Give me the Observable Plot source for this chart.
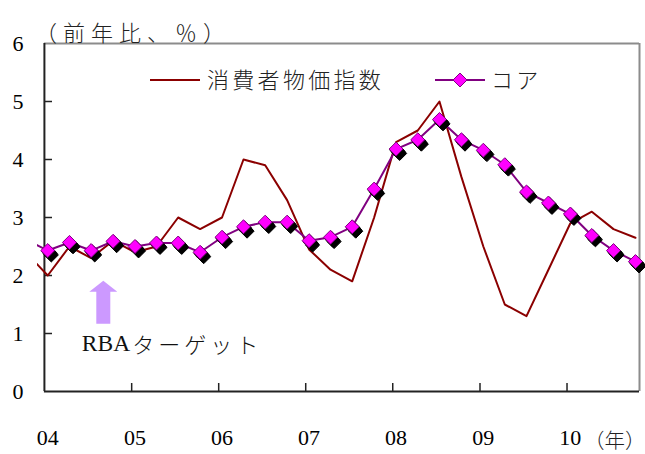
<!DOCTYPE html>
<html>
<head>
<meta charset="utf-8">
<script src="https://cdn.jsdelivr.net/npm/d3@7"></script>
<script src="https://cdn.jsdelivr.net/npm/@observablehq/plot@0.6"></script>
<style>
  body { margin: 0; background: #fff; }
  #chart { width: 645px; height: 454px; }
</style>
</head>
<body>
<div id="chart"></div>
<script>
// Consumer prices, year-on-year %, quarterly (2003Q4 is drawn only as the run-in to the left edge)
const quarters = [
  "2003Q4",
  "2004Q1", "2004Q2", "2004Q3", "2004Q4",
  "2005Q1", "2005Q2", "2005Q3", "2005Q4",
  "2006Q1", "2006Q2", "2006Q3", "2006Q4",
  "2007Q1", "2007Q2", "2007Q3", "2007Q4",
  "2008Q1", "2008Q2", "2008Q3", "2008Q4",
  "2009Q1", "2009Q2", "2009Q3", "2009Q4",
  "2010Q1", "2010Q2", "2010Q3", "2010Q4"
];
const cpiHeadline = [
  2.4,
  2.0, 2.5, 2.3, 2.6,
  2.4, 2.5, 3.0, 2.8,
  3.0, 4.0, 3.9, 3.3,
  2.45, 2.1, 1.9, 3.0,
  4.3, 4.5, 5.0, 3.7,
  2.5, 1.5, 1.3, 2.1,
  2.9, 3.1, 2.8, 2.65
];
const cpiCore = [
  2.62,
  2.43, 2.57, 2.43, 2.59,
  2.50, 2.56, 2.56, 2.40,
  2.66, 2.84, 2.92, 2.92,
  2.60, 2.66, 2.84, 3.49,
  4.18, 4.34, 4.69, 4.34,
  4.16, 3.91, 3.44, 3.25,
  3.06, 2.69, 2.43, 2.24
];
const yearLabels = ["04", "05", "06", "07", "08", "09", "10"];
const yTicks = [0, 1, 2, 3, 4, 5, 6];

const seriesNames = { headline: "消費者物価指数", core: "コア" };
const unitLabel = "（前年比、％）";
const yearUnit = "（年）";
const targetLabel = ["RBA", "ターゲット"];

// Each quarter sits in the middle of its first month
const parseQuarter = s => new Date(Date.UTC(+s.slice(0, 4), (+s.slice(5) - 1) * 3, 15));
const rows = quarters.map((q, i) => ({ date: parseQuarter(q), headline: cpiHeadline[i], core: cpiCore[i] }));

const firstYear = 2004;
const axisStart = new Date(Date.UTC(firstYear, 0, 1));
const xStart = new Date(Date.UTC(2003, 11, 3));
const xEnd = new Date(Date.UTC(2010, 10, 1));
const shown = rows.filter(d => d.date >= axisStart);
const yearRows = yearLabels.map((label, i) => ({ date: new Date(Date.UTC(firstYear + i, 0, 15)), label }));
const yearStarts = yearLabels.slice(1).map((_, i) => new Date(Date.UTC(firstYear + i + 1, 0, 1)));

const W = 645, H = 454, mL = 37, mR = 6, mT = 43, mB = 63;
const innerW = W - mL - mR, innerH = H - mT - mB;
const serif = "'Liberation Serif', 'Times New Roman', serif";
const cjk = "'Noto Sans CJK JP', 'Noto Sans', sans-serif";
const axisColor = "#222", borderColor = "#8c8c8c";
const headColor = "#8b0000", coreColor = "#800080", markFill = "#ff00ff";

// Block arrow pointing up, centred on its anchor
const blockArrow = {
  draw(ctx) {
    ctx.moveTo(0, -21.5);
    ctx.lineTo(14, -10.5);
    ctx.lineTo(7, -10.5);
    ctx.lineTo(7, 21.5);
    ctx.lineTo(-7, 21.5);
    ctx.lineTo(-7, -10.5);
    ctx.lineTo(-14, -10.5);
    ctx.closePath();
  }
};

// extruded black shadow behind each core marker
const shadow = [1, 2, 3, 4].map(k => Plot.dot(shown, {
  x: "date", y: "core", symbol: "diamond2", r: 6.3,
  fill: "#000", stroke: "#000", strokeWidth: 1, dx: k * 0.9, dy: k * 1.1
}));

const chart = Plot.plot({
  width: W, height: H,
  marginLeft: mL, marginRight: mR, marginTop: mT, marginBottom: mB,
  style: { background: "#fff", overflow: "visible" },
  x: { type: "utc", domain: [xStart, xEnd], axis: null },
  y: { domain: [0, 6], axis: null },
  marks: [
    // frame
    Plot.ruleY([6], { x1: axisStart, x2: xEnd, stroke: borderColor, strokeWidth: 2 }),
    Plot.ruleX([xEnd], { y1: 0, y2: 6, stroke: borderColor, strokeWidth: 2 }),
    Plot.ruleX([axisStart], { y1: 0, y2: 6, stroke: axisColor, strokeWidth: 2 }),
    Plot.ruleY([0], { x1: axisStart, x2: xEnd, stroke: axisColor, strokeWidth: 2 }),
    // inward ticks
    Plot.tickY(yTicks.filter(v => v > 0 && v < 6), {
      y: d => d, insetLeft: 7, insetRight: innerW - 15, stroke: axisColor, strokeWidth: 1.5
    }),
    Plot.tickX(yearStarts, { x: d => d, insetTop: innerH - 8, stroke: axisColor, strokeWidth: 1.5 }),
    // tick labels
    Plot.text(yTicks, {
      y: d => d, text: d => String(d), frameAnchor: "left", dx: -14, textAnchor: "end",
      lineAnchor: "middle", fontSize: 22, fontFamily: serif, fill: "#000"
    }),
    Plot.text(yearRows, {
      x: "date", text: "label", frameAnchor: "bottom", dy: 46, lineAnchor: "middle",
      fontSize: 22, fontFamily: serif, fill: "#000"
    }),
    // series
    Plot.line(rows, { x: "date", y: "headline", stroke: headColor, strokeWidth: 2, clip: true }),
    Plot.line(rows, { x: "date", y: "core", stroke: coreColor, strokeWidth: 2, clip: true }),
    ...shadow,
    Plot.dot(shown, {
      x: "date", y: "core", symbol: "diamond2", r: 6.3,
      fill: markFill, stroke: coreColor, strokeWidth: 1
    }),
    // target annotation arrow
    Plot.dot([{ date: new Date(Date.UTC(2004, 8, 4)), v: 1.54 }], {
      x: "date", y: "v", symbol: blockArrow, r: 1, fill: "#cc99ff", stroke: "none"
    })
  ]
});

document.getElementById("chart").appendChild(chart);

const svg = d3.select(chart);
const xs = chart.scale("x"), ys = chart.scale("y");

// target label: Latin part in serif, katakana spaced out
const note = svg.append("text")
  .attr("x", xs.apply(new Date(Date.UTC(2004, 5, 8))))
  .attr("y", ys.apply(0.83))
  .attr("text-anchor", "start")
  .attr("dominant-baseline", "central")
  .attr("font-family", `${serif}, ${cjk}`)
  .attr("fill", "#111");
note.append("tspan").attr("font-size", 23.5).text(targetLabel[0]);
note.append("tspan").attr("font-family", cjk).attr("font-weight", 300)
  .attr("font-size", 22).attr("letter-spacing", 4).attr("dx", 2).text(targetLabel[1]);

// unit labels
svg.append("text")
  .attr("x", 35).attr("y", 31)
  .attr("text-anchor", "start")
  .attr("dominant-baseline", "central")
  .attr("font-family", cjk).attr("font-size", 22).attr("font-weight", 300)
  .attr("letter-spacing", 6).attr("fill", "#222")
  .text(unitLabel);

svg.append("text")
  .attr("x", 584).attr("y", 439)
  .attr("text-anchor", "start")
  .attr("dominant-baseline", "central")
  .attr("font-family", cjk).attr("font-size", 20.5).attr("font-weight", 300)
  .attr("fill", "#222")
  .text(yearUnit);

// legend
const legend = svg.append("g").attr("font-family", cjk).attr("font-size", 22)
  .attr("font-weight", 300).attr("fill", "#222").attr("text-anchor", "start");
legend.append("line").attr("x1", 150).attr("x2", 200).attr("y1", 80).attr("y2", 80)
  .attr("stroke", headColor).attr("stroke-width", 2);
legend.append("text").attr("x", 207).attr("y", 78).attr("dominant-baseline", "central")
  .attr("letter-spacing", 3.3).text(seriesNames.headline);
legend.append("line").attr("x1", 435).attr("x2", 485).attr("y1", 80).attr("y2", 80)
  .attr("stroke", coreColor).attr("stroke-width", 2);
legend.append("path").attr("d", "M460,73L467,80L460,87L453,80Z")
  .attr("fill", markFill).attr("stroke", coreColor).attr("stroke-width", 1);
legend.append("text").attr("x", 491).attr("y", 78).attr("dominant-baseline", "central")
  .attr("letter-spacing", 3.3).text(seriesNames.core);
</script>
</body>
</html>
